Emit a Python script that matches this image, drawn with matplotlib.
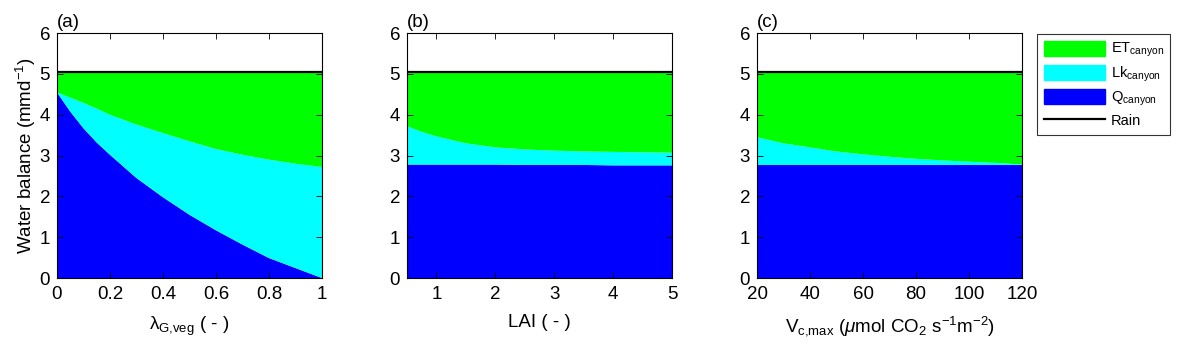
import matplotlib.pyplot as plt
from matplotlib.patches import Patch
from matplotlib.lines import Line2D
from matplotlib.ticker import FormatStrFormatter

plt.rcParams['font.family'] = ['Liberation Sans', 'DejaVu Sans']
plt.rcParams['mathtext.fontset'] = 'custom'
plt.rcParams['mathtext.rm'] = 'Liberation Sans'
plt.rcParams['mathtext.it'] = 'Liberation Sans:italic'
plt.rcParams['xtick.direction'] = 'in'
plt.rcParams['ytick.direction'] = 'in'
plt.rcParams['xtick.top'] = True
plt.rcParams['ytick.right'] = True

rain = 5.05

# (a) lambda_G,veg
x_a = [0, 0.05, 0.1, 0.15, 0.2, 0.3, 0.4, 0.5, 0.6, 0.7, 0.8, 0.9, 1.0]
q_a = [4.55, 4.08, 3.67, 3.32, 3.02, 2.45, 1.98, 1.55, 1.17, 0.82, 0.49, 0.245, 0.0]
lk_a = [0.0, 0.34, 0.62, 0.83, 0.98, 1.31, 1.57, 1.80, 1.99, 2.20, 2.41, 2.555, 2.72]
et_a = [0.50, 0.63, 0.76, 0.90, 1.05, 1.29, 1.50, 1.70, 1.89, 2.03, 2.15, 2.25, 2.33]

# (b) LAI
x_b = [0.5, 0.75, 1, 1.5, 2, 2.5, 3, 3.5, 4, 4.5, 5]
q_b = [2.78, 2.78, 2.78, 2.78, 2.78, 2.77, 2.77, 2.77, 2.76, 2.76, 2.76]
lk_b = [0.94, 0.80, 0.69, 0.52, 0.42, 0.38, 0.35, 0.33, 0.33, 0.32, 0.31]
et_b = [1.33, 1.47, 1.58, 1.75, 1.85, 1.90, 1.93, 1.95, 1.96, 1.97, 1.98]

# (c) Vc,max
x_c = [20, 30, 40, 50, 60, 70, 80, 90, 100, 110, 120]
q_c = [2.77] * 11
lk_c = [0.68, 0.53, 0.43, 0.33, 0.26, 0.20, 0.15, 0.11, 0.08, 0.05, 0.01]
et_c = [1.60, 1.75, 1.85, 1.95, 2.02, 2.08, 2.13, 2.17, 2.20, 2.23, 2.27]

colors = ['#0000ff', '#00ffff', '#00ff00']

panels = [
    (x_a, q_a, lk_a, et_a, [0, 0.2, 0.4, 0.6, 0.8, 1], r'λ$_{\mathrm{G{,}veg}}$ ( - )', '(a)'),
    (x_b, q_b, lk_b, et_b, [1, 2, 3, 4, 5], 'LAI ( - )', '(b)'),
    (x_c, q_c, lk_c, et_c, [20, 40, 60, 80, 100, 120],
     r'V$_{\mathrm{c{,}max}}$ ($\mu$mol CO$_2$ s$^{-1}$m$^{-2}$)', '(c)'),
]
lefts = [0.0483, 0.3452, 0.6421]

fig = plt.figure(figsize=(11.79, 3.56), dpi=100)
for i, (x, q, lk, et, xt, xl, tag) in enumerate(panels):
    ax = fig.add_axes([lefts[i], 0.219, 0.2248, 0.688])
    ax.stackplot(x, q, lk, et, colors=colors, linewidth=0)
    ax.plot([x[0], x[-1]], [rain, rain], color='black', lw=1.6)
    ax.set_xlim(x[0], x[-1])
    ax.set_ylim(0, 6)
    ax.set_xticks(xt)
    ax.set_yticks(range(7))
    ax.xaxis.set_major_formatter(FormatStrFormatter('%g'))
    ax.tick_params(labelsize=13.5, length=4, width=0.6)
    ax.tick_params(axis='x', pad=6)
    ax.tick_params(axis='y', pad=5)
    ax.set_xlabel(xl, fontsize=13.5, labelpad=8)
    if i == 0:
        ax.set_ylabel('Water balance (mmd$^{-1}$)', fontsize=13.5, labelpad=1)
    ax.text(0, 1.01, tag, transform=ax.transAxes, fontsize=13.5, ha='left', va='bottom')
    for s in ax.spines.values():
        s.set_linewidth(0.8)

handles = [Patch(color='#00ff00'), Patch(color='#00ffff'), Patch(color='#0000ff'),
           Line2D([], [], color='black', lw=1.6)]
labels = [r'ET$_{\mathrm{canyon}}$', r'Lk$_{\mathrm{canyon}}$', r'Q$_{\mathrm{canyon}}$', 'Rain']
leg = fig.legend(handles, labels, loc='upper left', bbox_to_anchor=(0.8796, 0.9045),
                 fontsize=10.5, frameon=True, fancybox=False, edgecolor='black',
                 handlelength=4.2, handleheight=1.2, handletextpad=0.4,
                 borderaxespad=0, labelspacing=0.35, borderpad=0.45)
leg.get_frame().set_linewidth(0.8)

plt.savefig('out.png')
